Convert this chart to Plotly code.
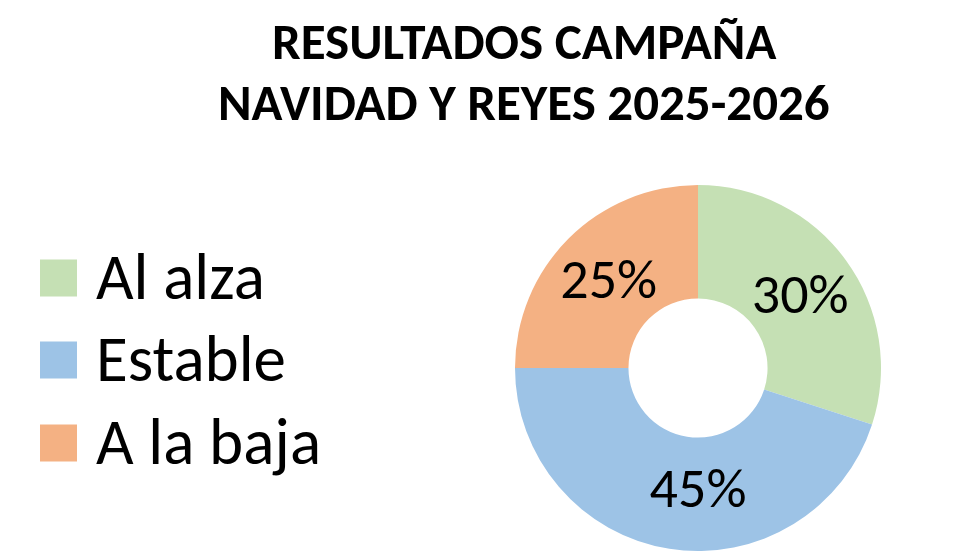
import plotly.graph_objects as go

title_lines = ["RESULTADOS CAMPAÑA", "NAVIDAD Y REYES 2025-2026"]
labels = ["Al alza", "Estable", "A la baja"]
values = [30, 45, 25]
colors = ["#C5E0B4", "#9DC3E6", "#F4B183"]

FONT = "Carlito, Lato, sans-serif"
W, H = 980, 560

fig = go.Figure()
fig.add_trace(go.Pie(
    labels=labels,
    values=values,
    sort=False,
    direction="clockwise",
    rotation=0,
    hole=0.38,
    marker=dict(colors=colors, line=dict(width=0)),
    texttemplate="%{percent:.0%}",
    textposition="inside",
    insidetextorientation="horizontal",
    textfont=dict(family=FONT, size=56, color="black"),
    domain=dict(x=[515 / W, 881 / W], y=[1 - 551 / H, 1 - 185 / H]),
    showlegend=False,
))

# custom legend (large squares + text)
shapes = []
annotations = []
sq = 37
x0 = 40
y_centers = [276, 358, 441]
for lab, col, yc in zip(labels, colors, y_centers):
    shapes.append(dict(type="rect", xref="paper", yref="paper",
                       x0=x0 / W, x1=(x0 + sq) / W,
                       y0=1 - (yc + 2 + sq / 2) / H, y1=1 - (yc + 2 - sq / 2) / H,
                       fillcolor=col, line=dict(width=0)))
    annotations.append(dict(text=lab, xref="paper", yref="paper",
                            x=94 / W, y=1 - yc / H, xanchor="left", yanchor="middle",
                            showarrow=False,
                            font=dict(family=FONT, size=65, color="black")))

for line, yc in zip(title_lines, [42, 102]):
    annotations.append(dict(text="<b>" + line + "</b>",
                            xref="paper", yref="paper", x=524 / W, y=1 - yc / H,
                            xanchor="center", yanchor="middle", showarrow=False,
                            font=dict(family=FONT, size=51, color="black")))

fig.update_layout(
    width=W, height=H,
    margin=dict(l=0, r=0, t=0, b=0),
    paper_bgcolor="white", plot_bgcolor="white",
    shapes=shapes, annotations=annotations,
    uniformtext=dict(minsize=56, mode="show"),
)

fig.write_html("out.html")
